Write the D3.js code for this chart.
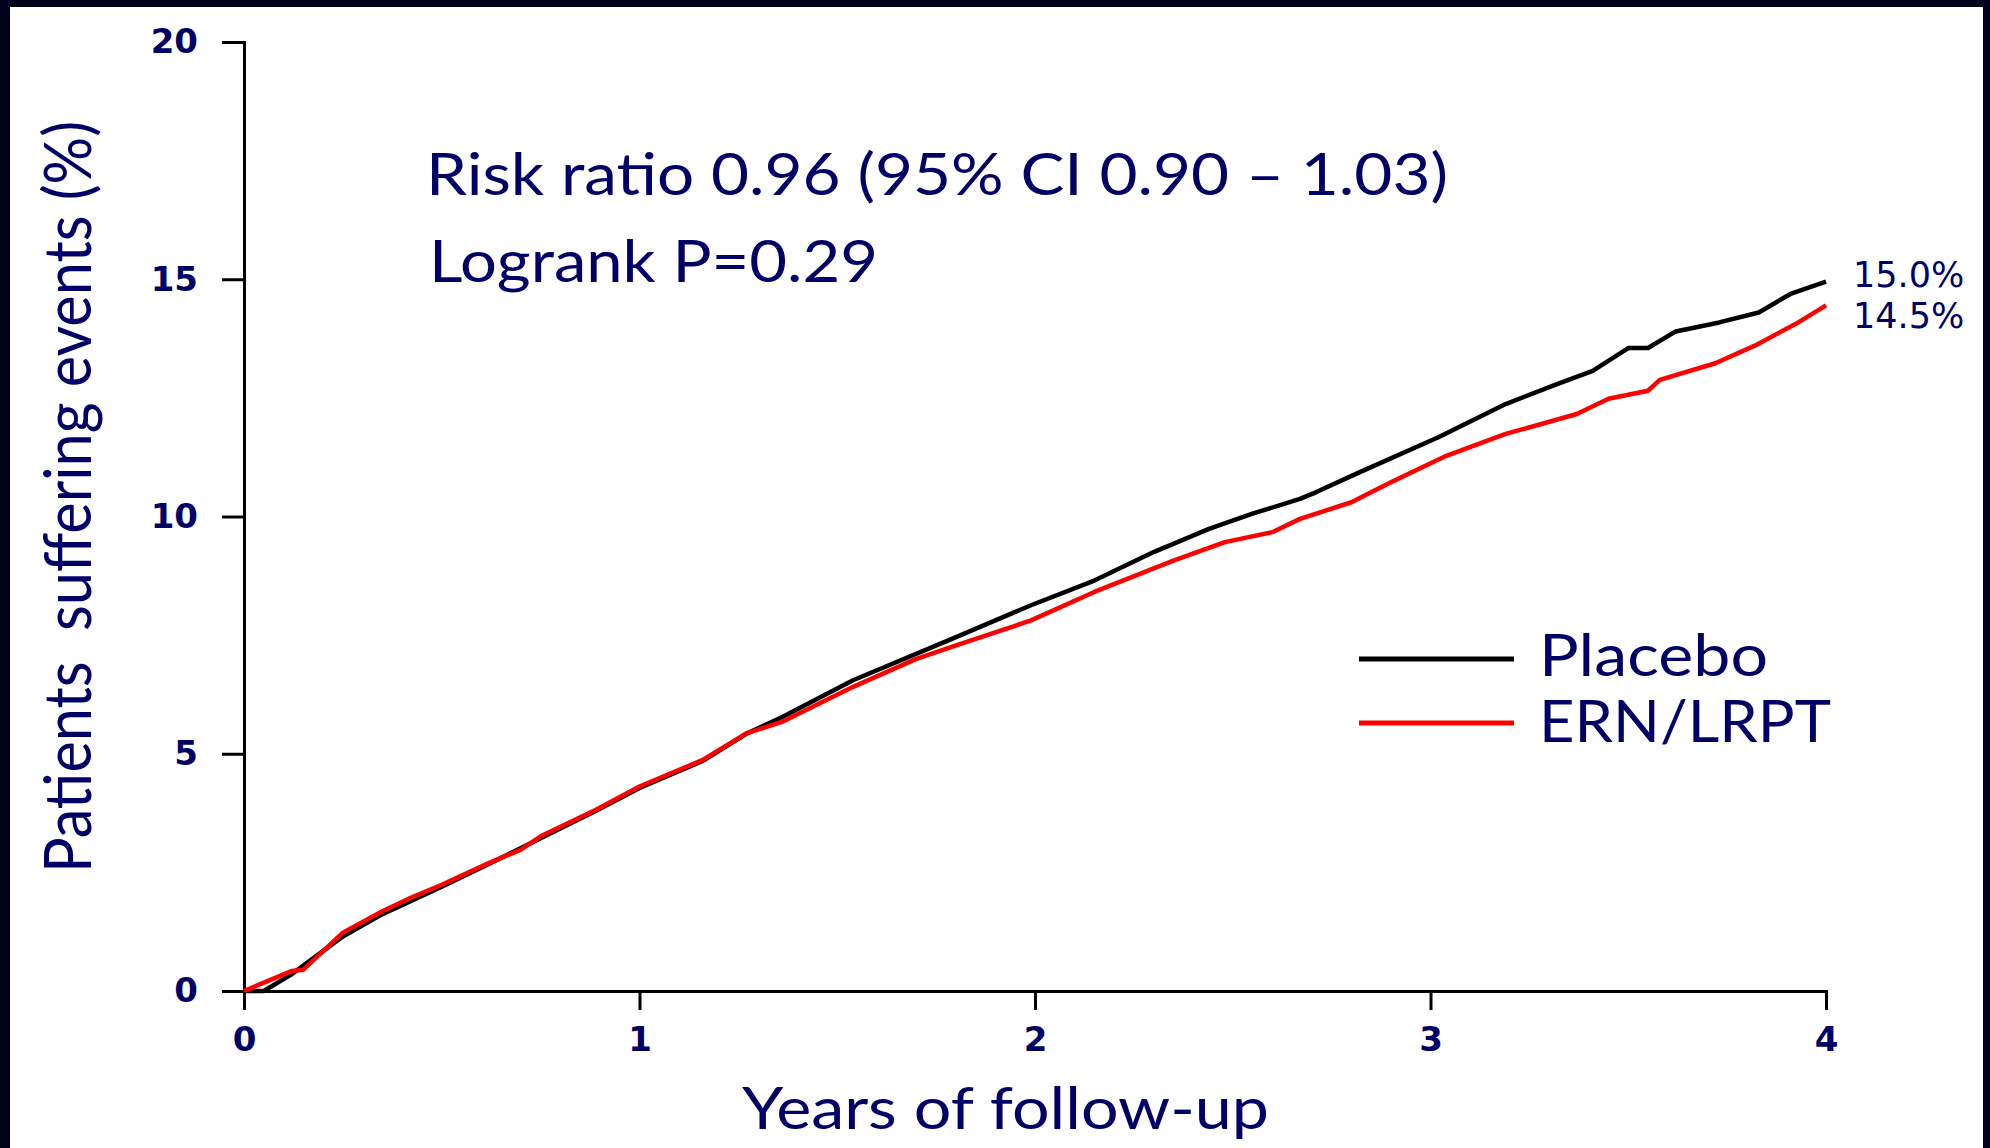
<!DOCTYPE html>
<html>
<head>
<meta charset="utf-8">
<script src="https://cdn.jsdelivr.net/npm/d3@7"></script>
<style>
  html, body { margin: 0; padding: 0; background: #ffffff; }
  svg { display: block; }
</style>
</head>
<body>
<svg id="chart" width="1990" height="1148"></svg>
<script>
// ---- data ----
const xTicks = [0, 1, 2, 3, 4];
const yTicks = [0, 5, 10, 15, 20];
const seriesNames = ["Placebo", "ERN/LRPT"];
const seriesColors = ["#000000", "#ff0000"];

const placeboYears = [0, 0.05, 0.12, 0.25, 0.35, 0.5, 0.62, 0.75, 0.89, 1.0, 1.16, 1.27, 1.36, 1.54, 1.79, 1.99, 2.15, 2.30, 2.44, 2.55, 2.67, 2.71, 2.82, 3.02, 3.19, 3.32, 3.41, 3.50, 3.55, 3.62, 3.73, 3.83, 3.91, 4.0];
const placeboPct   = [0, 0, 0.35, 1.15, 1.62, 2.2, 2.68, 3.22, 3.8, 4.28, 4.85, 5.42, 5.77, 6.55, 7.42, 8.13, 8.65, 9.25, 9.74, 10.06, 10.37, 10.51, 10.93, 11.67, 12.37, 12.79, 13.07, 13.55, 13.55, 13.90, 14.09, 14.30, 14.69, 14.95];

const ernYears = [0, 0.12, 0.15, 0.25, 0.35, 0.42, 0.5, 0.62, 0.70, 0.75, 0.89, 1.0, 1.16, 1.27, 1.36, 1.54, 1.70, 1.81, 1.99, 2.15, 2.35, 2.48, 2.60, 2.67, 2.80, 2.90, 3.04, 3.19, 3.37, 3.45, 3.55, 3.58, 3.72, 3.82, 3.93, 4.0];
const ernPct   = [0, 0.42, 0.45, 1.23, 1.68, 1.96, 2.24, 2.70, 2.98, 3.26, 3.82, 4.31, 4.87, 5.43, 5.67, 6.41, 7.0, 7.31, 7.81, 8.41, 9.07, 9.46, 9.67, 9.95, 10.30, 10.72, 11.28, 11.74, 12.16, 12.48, 12.65, 12.88, 13.23, 13.6, 14.09, 14.45];

const endLabels = ["15.0%", "14.5%"];
const annotationLines = ["Risk ratio 0.96 (95% CI 0.90 \u2013 1.03)", "Logrank P=0.29"];
const xTitle = "Years of follow-up";
const yTitle = "Patients\u00a0 suffering events (%)";

// ---- layout ----
const W = 1990, H = 1148;
const navy = "#000066";
const textFont = "Lato, 'Open Sans', sans-serif";
const svg = d3.select("#chart");

svg.append("rect").attr("x", 0).attr("y", 0).attr("width", W).attr("height", H).attr("fill", "#ffffff");
// dark frame (top, left, right)
const frame = "#00001a";
svg.append("rect").attr("x", 0).attr("y", 0).attr("width", W).attr("height", 7).attr("fill", frame);
svg.append("rect").attr("x", 0).attr("y", 0).attr("width", 10).attr("height", H).attr("fill", frame);
svg.append("rect").attr("x", 1983).attr("y", 0).attr("width", 7).attr("height", H).attr("fill", frame);

const x = d3.scaleLinear().domain([0, 4]).range([244, 1826]);
const y = d3.scaleLinear().domain([0, 20]).range([991, 42]);

// axes
const gx = svg.append("g").attr("transform", `translate(0,${y(0)})`)
  .call(d3.axisBottom(x).tickValues(xTicks).tickFormat(d3.format("d"))
    .tickSize(19).tickSizeOuter(0).tickPadding(17));
const gy = svg.append("g").attr("transform", `translate(${x(0)},0)`)
  .call(d3.axisLeft(y).tickValues(yTicks).tickFormat(d3.format("d"))
    .tickSize(22).tickSizeOuter(0).tickPadding(24));

[gx, gy].forEach(g => {
  g.select(".domain").attr("stroke", "#000").attr("stroke-width", 3).attr("stroke-linecap", "square");
  g.selectAll(".tick line").attr("stroke", "#000").attr("stroke-width", 3);
  g.selectAll(".tick text")
    .attr("fill", navy)
    .attr("font-family", "'DejaVu Sans', Verdana, sans-serif")
    .attr("font-weight", "bold")
    .attr("font-size", 34);
});

// curves
const series = [
  placeboYears.map((t, i) => ({ t, v: placeboPct[i] })),
  ernYears.map((t, i) => ({ t, v: ernPct[i] }))
];
const line = d3.line().x(d => x(d.t)).y(d => y(d.v)).curve(d3.curveLinear);
series.forEach((s, i) => {
  svg.append("path").datum(s)
    .attr("d", line)
    .attr("fill", "none")
    .attr("stroke", seriesColors[i])
    .attr("stroke-width", 4.5)
    .attr("stroke-linejoin", "round");
});

// end labels
const endOffsets = [5, 23];
series.forEach((s, i) => {
  const last = s[s.length - 1];
  svg.append("text")
    .attr("x", x(last.t) + 27)
    .attr("y", y(last.v) + endOffsets[i])
    .attr("fill", navy)
    .attr("font-family", "'DejaVu Sans', Verdana, sans-serif")
    .attr("font-size", 35)
    .text(endLabels[i]);
});

// annotation
const annX = [426, 429], annY = [195, 282], annLen = [1022, 449];
annotationLines.forEach((t, i) => {
  svg.append("text")
    .attr("x", annX[i]).attr("y", annY[i])
    .attr("fill", navy)
    .attr("font-family", textFont)
    .attr("font-size", 58)
    .attr("textLength", annLen[i])
    .attr("lengthAdjust", "spacingAndGlyphs")
    .text(t);
});

// legend
const legLineY = [659, 723], legTextY = [676, 742], legLen = [229, 292];
seriesNames.forEach((n, i) => {
  svg.append("line")
    .attr("x1", 1359).attr("x2", 1514)
    .attr("y1", legLineY[i]).attr("y2", legLineY[i])
    .attr("stroke", seriesColors[i]).attr("stroke-width", 5);
  svg.append("text")
    .attr("x", 1539).attr("y", legTextY[i])
    .attr("fill", navy)
    .attr("font-family", textFont)
    .attr("font-size", 58)
    .attr("textLength", legLen[i])
    .attr("lengthAdjust", "spacingAndGlyphs")
    .text(n);
});

// axis titles
svg.append("text")
  .attr("x", 742).attr("y", 1129)
  .attr("fill", navy)
  .attr("font-family", textFont)
  .attr("font-size", 58)
  .attr("textLength", 527)
  .attr("lengthAdjust", "spacingAndGlyphs")
  .text(xTitle);

svg.append("text")
  .attr("transform", "translate(91,497) rotate(-90)")
  .attr("text-anchor", "middle")
  .attr("fill", navy)
  .attr("font-family", textFont)
  .attr("font-size", 66)
  .attr("textLength", 752)
  .attr("lengthAdjust", "spacingAndGlyphs")
  .text(yTitle);
</script>
</body>
</html>
